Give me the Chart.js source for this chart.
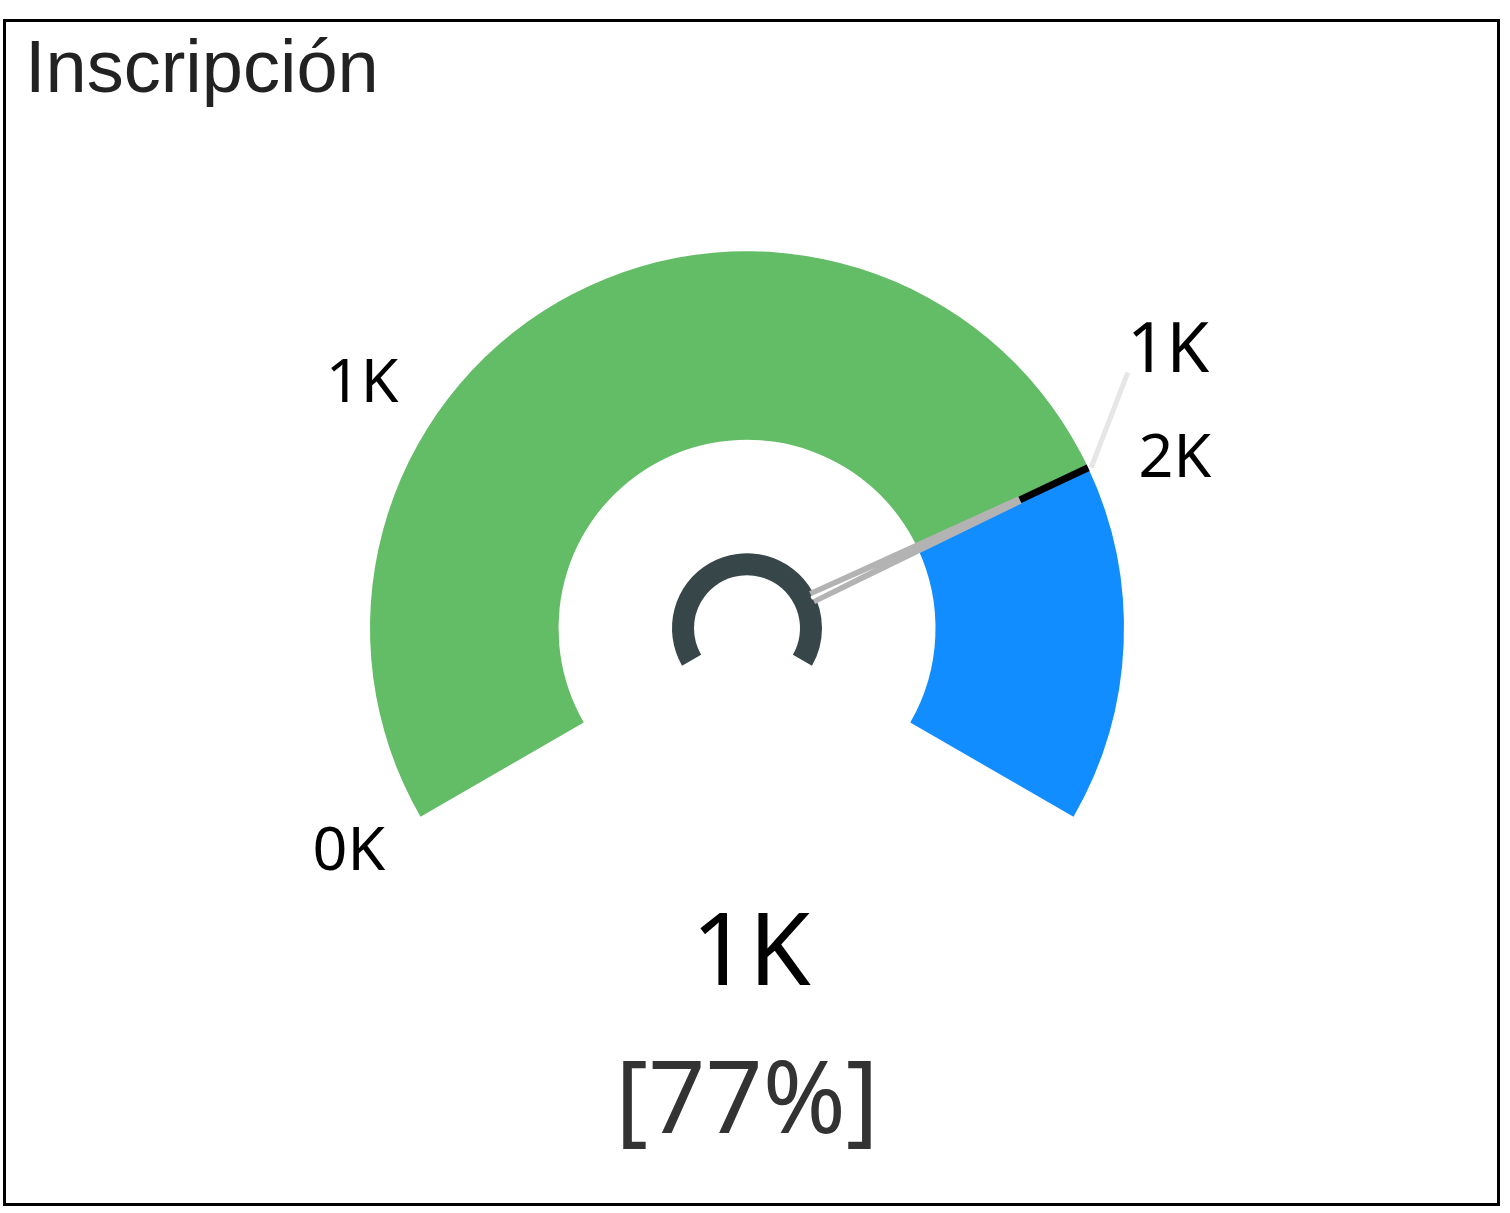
<!DOCTYPE html>
<html>
<head>
<meta charset="utf-8">
<script src="https://cdn.jsdelivr.net/npm/chart.js@4.4.0/dist/chart.umd.min.js"></script>
<style>
  html, body { margin: 0; padding: 0; background: #fff; overflow: hidden; }
  #wrap { position: relative; width: 1510px; height: 1213px; }
</style>
</head>
<body>
<div id="wrap"><canvas id="gaugeChart"></canvas></div>
<script>
var chartTitle = 'Inscripción';
var gaugeMin = 0;
var gaugeMax = 2000;
var gaugeValue = 1540;
var segmentLabels = ['Valor', 'Restante'];
var tickLabels = ['0K', '1K', '2K'];
var targetLabel = '1K';
var valueLabel = '1K';
var percentLabel = '[77%]';

(function() {
  var greenColor = '#63BC66';
  var blueColor = '#118DFF';
  var hubColor = '#374649';
  var fontFam = '"Noto Sans", "Open Sans", sans-serif';

  var ctx = document.getElementById('gaugeChart');

  /* label anchors as multiples of the outer radius, measured from the arc centre */
  var tickSpots = [
    { dx: -1.056, dy: 0.642, size: 61 },
    { dx: -1.021, dy: -0.599, size: 61 },
    { dx: 1.135, dy: -0.401, size: 61 }
  ];

  var gaugePlugin = {
    id: 'gaugeExtras',
    afterDraw: function(chart) {
      var c = chart.ctx;
      var arc = chart.getDatasetMeta(0).data[0];
      if (!arc) return;
      var cx = arc.x, cy = arc.y, R = arc.outerRadius;
      var frac = (gaugeValue - gaugeMin) / (gaugeMax - gaugeMin);
      var ang = (-210 + frac * 240) * Math.PI / 180;
      var ux = Math.cos(ang), uy = Math.sin(ang);
      var px = -uy, py = ux;
      function pt(r, w) { return [cx + ux * r + px * w, cy + uy * r + py * w]; }

      c.save();
      /* frame */
      c.strokeStyle = '#000';
      c.lineWidth = 3;
      c.strokeRect(4.5, 20.5, 1494, 1184);

      /* title */
      c.fillStyle = '#222';
      c.font = '74px "Liberation Sans", Arial, sans-serif';
      c.textAlign = 'left';
      c.textBaseline = 'alphabetic';
      c.fillText(chartTitle, 25, 92);

      /* hub ring */
      c.beginPath();
      var a0 = 150 * Math.PI / 180, a1 = 390 * Math.PI / 180;
      c.arc(cx, cy, 75, a0, a1, false);
      c.arc(cx, cy, 53, a1, a0, true);
      c.closePath();
      c.fillStyle = hubColor;
      c.fill();

      /* needle: tapered bar with a forked base */
      var r0 = 72, r1 = R * 0.80, rFork = R * 0.38;
      var p;
      c.fillStyle = '#B3B3B3';
      c.beginPath();
      p = pt(r0, -7); c.moveTo(p[0], p[1]);
      p = pt(r1, -4); c.lineTo(p[0], p[1]);
      p = pt(r1, 4); c.lineTo(p[0], p[1]);
      p = pt(r0, 7); c.lineTo(p[0], p[1]);
      c.closePath();
      c.fill();
      c.fillStyle = '#fff';
      c.beginPath();
      p = pt(r0 - 1, -1.8); c.moveTo(p[0], p[1]);
      p = pt(rFork, 0); c.lineTo(p[0], p[1]);
      p = pt(r0 - 1, 1.8); c.lineTo(p[0], p[1]);
      c.closePath();
      c.fill();

      /* target marker */
      c.strokeStyle = '#000';
      c.lineWidth = 7;
      c.lineCap = 'butt';
      c.beginPath();
      c.moveTo(cx + ux * r1, cy + uy * r1);
      c.lineTo(cx + ux * R, cy + uy * R);
      c.stroke();

      /* leader line to target label */
      c.strokeStyle = '#E6E6E6';
      c.lineWidth = 5;
      c.beginPath();
      c.moveTo(cx + ux * R + 3, cy + uy * R);
      c.lineTo(cx + R * 1.01, cy - R * 0.678);
      c.stroke();

      /* tick labels */
      c.fillStyle = '#000';
      c.textAlign = 'center';
      tickLabels.forEach(function(t, i) {
        var s = tickSpots[i];
        c.font = s.size + 'px ' + fontFam;
        c.fillText(t, cx + s.dx * R, cy + s.dy * R);
      });

      /* target label */
      c.font = '69px ' + fontFam;
      c.fillText(targetLabel, cx + 1.117 * R, cy - 0.679 * R);

      /* value and percent */
      c.font = '100px ' + fontFam;
      c.fillText(valueLabel, cx + 4, cy + 0.947 * R);
      c.fillStyle = '#333';
      c.font = '100px ' + fontFam;
      c.fillText(percentLabel, cx, cy + 1.34 * R);
      c.restore();
    }
  };

  new Chart(ctx, {
    type: 'doughnut',
    data: {
      labels: segmentLabels,
      datasets: [{
        data: [gaugeValue - gaugeMin, gaugeMax - gaugeValue],
        backgroundColor: [greenColor, blueColor],
        borderWidth: 0,
        hoverOffset: 0
      }]
    },
    options: {
      responsive: true,
      maintainAspectRatio: false,
      animation: false,
      rotation: -120,
      circumference: 240,
      cutout: '50%',
      layout: { padding: { top: 251, bottom: 396, left: 370, right: 386 } },
      plugins: {
        legend: { display: false },
        tooltip: { enabled: false },
        title: { display: false }
      }
    },
    plugins: [gaugePlugin]
  });
})();
</script>
</body>
</html>
